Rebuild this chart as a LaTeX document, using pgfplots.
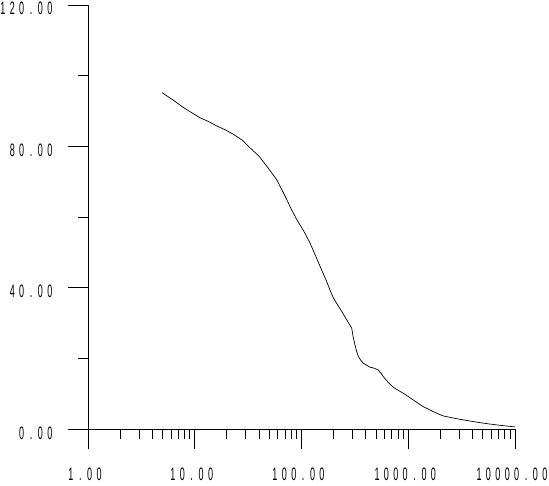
\documentclass[border=0pt]{standalone}
\usepackage{fontspec}
\usepackage{pgfplots}
\pgfplotsset{compat=1.18}
\newfontfamily\lblfont{Liberation Sans}[FakeStretch=0.5]
\makeatletter
\def\spaced#1{\spaced@i#1\relax}
\def\spaced@i#1{\ifx#1\relax\else\makebox[9.4pt][c]{#1}\expandafter\spaced@i\fi}
\makeatother
\begin{document}
\begin{tikzpicture}
\begin{axis}[
  at={(0,0)}, anchor=south west,
  scale only axis, width=427pt, height=424pt,
  xmode=log, xmin=1, xmax=10000, ymin=0, ymax=120,
  axis lines=left, axis line style={-, line width=0.8pt},
  tick align=outside, major tick length=20pt, minor tick length=10pt,
  tick style={black, line width=0.8pt},
  xtick={1,10,100,1000,10000},
  xticklabels={\spaced{1.00},\spaced{10.00},\spaced{100.00},\spaced{1000.00},\spaced{10000.00}},
  minor xtick={2,3,4,5,6,7,8,9,20,30,40,50,60,70,80,90,200,300,400,500,600,700,800,900,2000,3000,4000,5000,6000,7000,8000,9000},
  ytick={0,40,80,120},
  yticklabels={\spaced{0.00},\spaced{40.00},\spaced{80.00},\spaced{120.00}},
  minor ytick={20,60,100},
  tick label style={font=\lblfont\fontsize{18}{18}\selectfont, inner sep=0pt},
  yticklabel style={anchor=base east, xshift=-13.3pt, yshift=-10pt},
  xticklabel style={anchor=base, yshift=-31pt, xshift=-3pt},
  clip=false,
]
\addplot[black, line width=0.7pt] coordinates {
(4.94,95.2) (6.2,93.2) (7.81,91.0) (9.5,89.4) (11.2,88.1) (13.5,87.0) (16.0,85.8) (19.5,84.6) (23.0,83.4) (28,81.7) (32.9,79.6) (40,77.2) (47.2,74.4) (52,72.7) (58.5,70.6) (65,67.9) (72.6,65.0) (80,62.3) (90.2,59.3) (105,56.0) (120,52.7) (140,48.0) (166,42.8) (172,41.8) (185,39.3) (199,37.1) (218,35.1) (238,33.3) (265,30.9) (295,28.6) (305,26.0) (317,23.8) (330,21.8) (341,20.5) (360,19.4) (380,18.6) (410,18.0) (438,17.5) (480,17.2) (524,16.7) (555,15.8) (584,14.8) (650,13.2) (725,11.8) (810,10.9) (899,10.1) (1000,9.2) (1116,8.2) (1250,7.2) (1384,6.3) (1550,5.6) (1717,4.9) (1900,4.3) (2130,3.7) (2550,3.2) (3052,2.75) (3800,2.25) (4700,1.8) (5800,1.4) (7240,1.05) (8600,0.8) (10000,0.6)
};
\end{axis}
\pgfresetboundingbox
\path (-88pt,-56pt) rectangle (461pt,429pt);
\end{tikzpicture}
\end{document}
